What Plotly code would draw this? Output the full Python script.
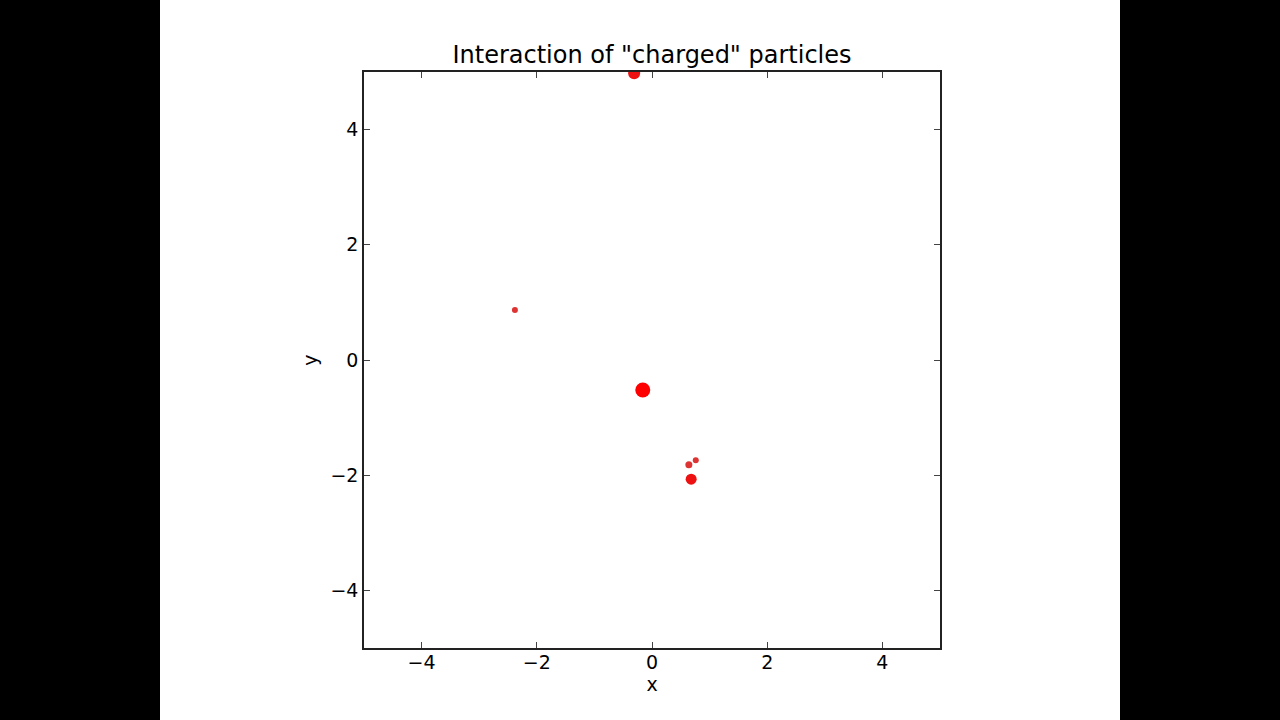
import plotly.graph_objects as go

# particle positions
px = [-0.31, -2.38, -0.16, 0.64, 0.76, 0.68]
py = [4.98, 0.87, -0.52, -1.82, -1.74, -2.07]
psize = [12, 6, 15, 7, 6, 11]
pcolor = ["#ee1111", "#dd3333", "#ff0000", "#dd3333", "#dd3333", "#ee1111"]

tick_vals = [-4, -2, 0, 2, 4]

fig = go.Figure()
fig.add_trace(go.Scatter(
    x=px, y=py, mode="markers",
    marker=dict(size=psize, color=pcolor, opacity=1, line=dict(width=0)),
    cliponaxis=True, showlegend=False, hoverinfo="skip",
))

axis_common = dict(
    range=[-5, 5], tickvals=tick_vals, ticks="inside", ticklen=6, tickwidth=1,
    tickcolor="#444444", showline=True, linecolor="#222222", linewidth=1.5,
    mirror="ticks", showgrid=False, zeroline=False,
    tickfont=dict(family="DejaVu Sans", size=19, color="black"),
)

fig.update_layout(
    width=1280, height=720,
    margin=dict(l=364, r=340, t=72, b=72),
    paper_bgcolor="black", plot_bgcolor="white",
    title=dict(text='Interaction of "charged" particles', x=652/1280, xanchor="center",
               y=1 - 55/720, yanchor="middle", yref="container",
               font=dict(family="DejaVu Sans", size=24, color="black")),
    xaxis=dict(**axis_common, ticklabelstandoff=-4,
               title=dict(text="x", standoff=0,
                          font=dict(family="DejaVu Sans", size=19, color="black"))),
    yaxis=dict(**axis_common,
               title=dict(text="y", standoff=8,
                          font=dict(family="DejaVu Sans", size=19, color="black"))),
    shapes=[dict(type="rect", xref="paper", yref="paper",
                 x0=(160-364)/576, x1=(1120-364)/576, y0=-72/576, y1=648/576,
                 fillcolor="white", line=dict(width=0), layer="below")],
)

fig.write_html("out.html", config={"displayModeBar": False},
               post_script="document.body.style.margin='0';document.body.style.background='black';")
